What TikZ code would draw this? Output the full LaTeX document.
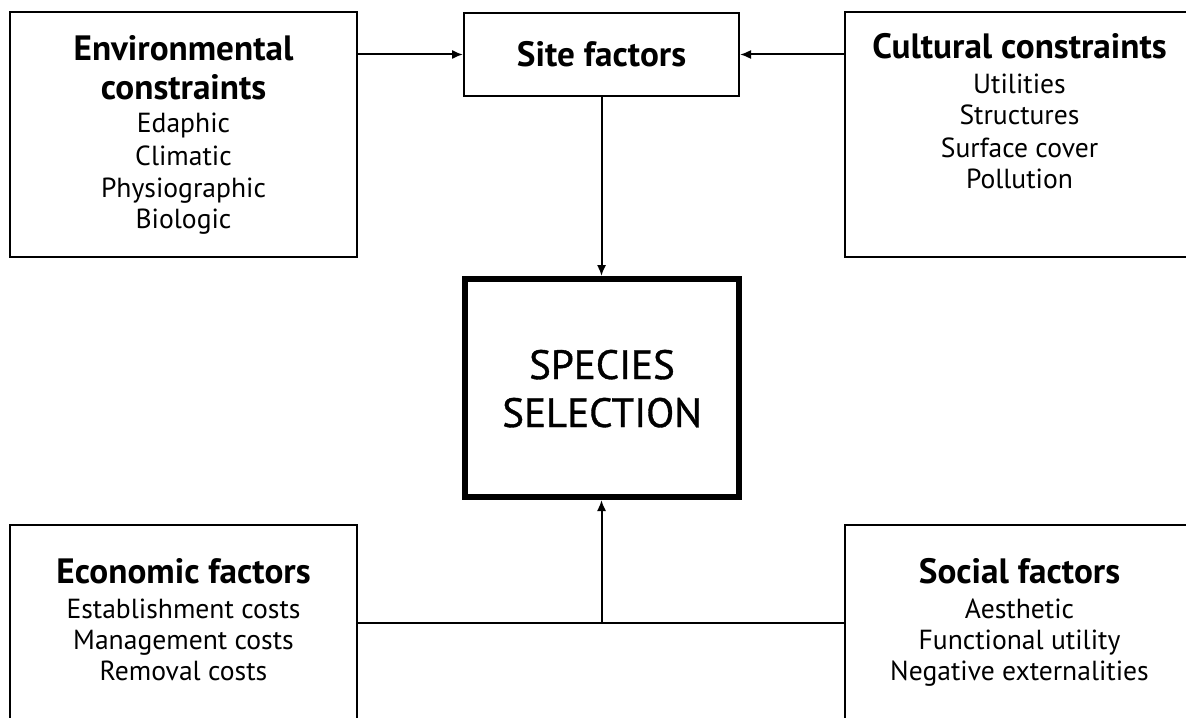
\documentclass[tikz,border=0pt]{standalone}
\usepackage{fontspec}
\setmainfont{PT Sans}
\newfontfamily\specfont{PT Sans}[FakeBold=0.9]
\usetikzlibrary{arrows.meta}
\tikzset{
  box/.style={draw, line width=1pt, rectangle, inner sep=0pt},
  bigbox/.style={draw, line width=3pt, rectangle, inner sep=0pt},
  ttl/.style={inner sep=0pt, anchor=base, font=\fontsize{17.6}{20}\selectfont\bfseries},
  itm/.style={inner sep=0pt, anchor=base, font=\fontsize{13.8}{16}\selectfont},
  spc/.style={inner sep=0pt, anchor=base, font=\specfont\fontsize{20.5}{24}\selectfont},
  conn/.style={line width=1pt},
  arr/.style={conn, -{Latex[length=5.5pt,width=4.6pt]}}
}
\begin{document}
\begin{tikzpicture}[x=0.5pt, y=-0.5pt]
\clip (0,0) rectangle (1186,717);
\fill[white] (0,0) rectangle (1186,717);
% boxes
\node[box, minimum width=173.5pt, minimum height=122.5pt] (env) at (183.5,134.5) {};
\node[box, minimum width=137.5pt, minimum height=41.5pt] (site) at (601.5,54.5) {};
\node[box, minimum width=174.5pt, minimum height=122.5pt] (cult) at (1019.5,134.5) {};
\node[bigbox, minimum width=137pt, minimum height=109pt] (spec) at (602,388) {};
\node[box, minimum width=173.5pt, minimum height=122.5pt] (econ) at (183.5,647.5) {};
\node[box, minimum width=174.5pt, minimum height=122.5pt] (soc) at (1019.5,647.5) {};
% texts
\node[ttl] (envt1) at (183.5,61) {Environmental};
\node[ttl] (envt2) at (183.5,99) {constraints};
\node[itm] (env1) at (183.5,133) {Edaphic};
\node[itm] (env2) at (183.5,165) {Climatic};
\node[itm] (env3) at (183.5,197) {Physiographic};
\node[itm] (env4) at (183.5,228) {Biologic};
\node[ttl] (sitet) at (601.5,67) {Site factors};
\node[ttl] (cultt) at (1019.5,59) {Cultural constraints};
\node[itm] (cult1) at (1019.5,93) {Utilities};
\node[itm] (cult2) at (1019.5,125) {Structures};
\node[itm] (cult3) at (1019.5,157) {Surface cover};
\node[itm] (cult4) at (1019.5,188) {Pollution};
\node[spc] (spect1) at (602,379) {SPECIES};
\node[spc] (spect2) at (602,427) {SELECTION};
\node[ttl] (econt) at (183.5,583) {Economic factors};
\node[itm] (econ1) at (183.5,618) {Establishment costs};
\node[itm] (econ2) at (183.5,649) {Management costs};
\node[itm] (econ3) at (183.5,680) {Removal costs};
\node[ttl] (soct) at (1019.5,583) {Social factors};
\node[itm] (soc1) at (1019.5,618) {Aesthetic};
\node[itm] (soc2) at (1019.5,649) {Functional utility};
\node[itm] (soc3) at (1019.5,680) {Negative externalities};
% connectors
\draw[arr] (env.east |- site.west) -- (site.west);
\draw[arr] (cult.west |- site.east) -- (site.east);
\draw[arr] (site.south) -- (site.south |- spec.north);
\coordinate (join) at (601.5,623);
\draw[conn] (econ.east |- join) -- (soc.west |- join);
\draw[arr] (join) -- (join |- spec.south);
\end{tikzpicture}
\end{document}
